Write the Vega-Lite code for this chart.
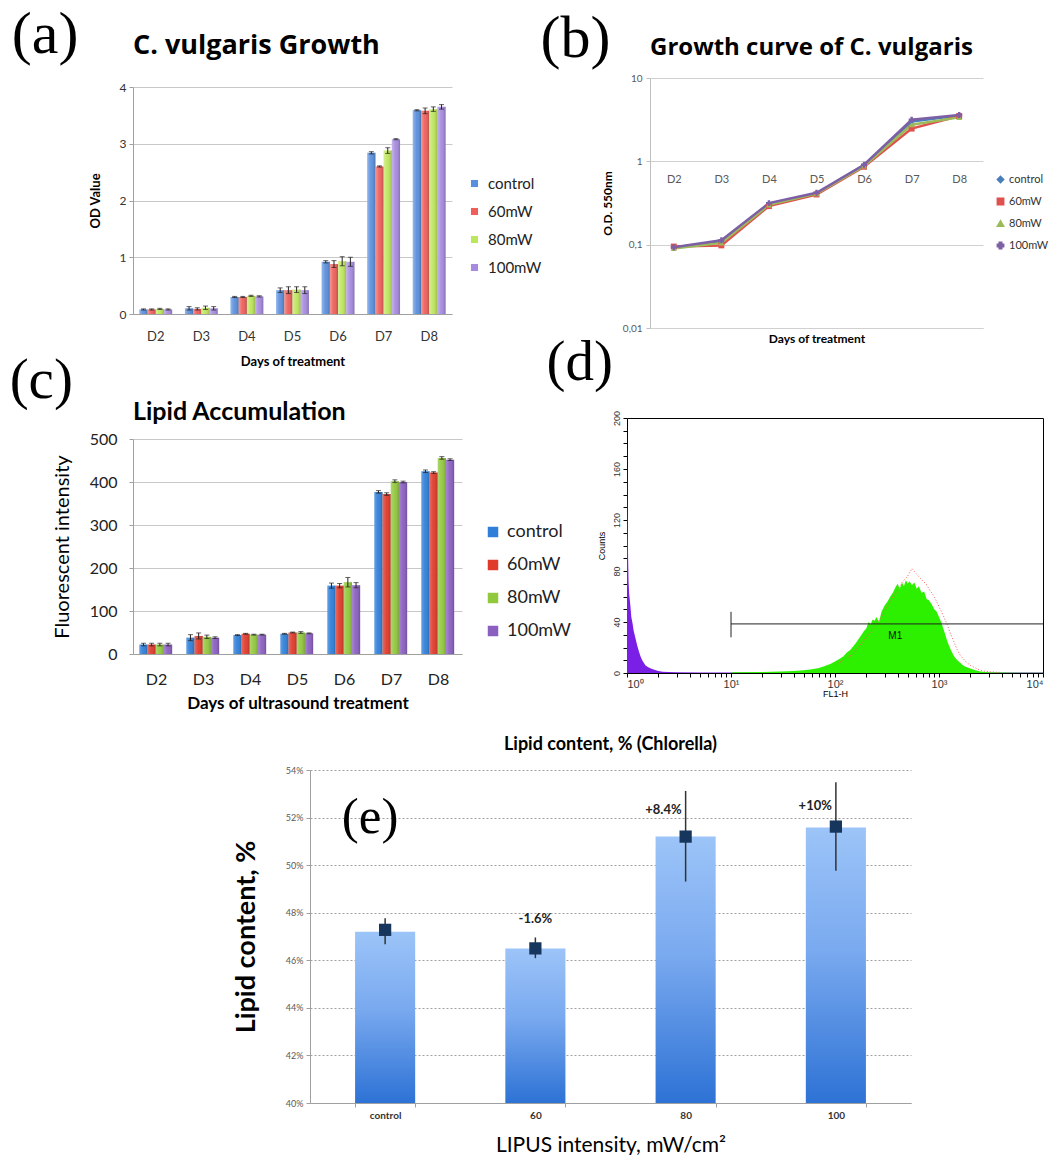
{
 "$schema": "https://vega.github.io/schema/vega-lite/v6.json",
 "background": "white",
 "padding": {"left": 9, "top": 5, "right": 0, "bottom": 0},
 "config": {
  "view": {"stroke": null},
  "font": "Lato",
  "axis": {"labelFont": "Lato", "titleFont": "Lato", "titleColor": "#000"},
  "legend": {"labelFont": "Lato"},
  "title": {"font": "Lato", "color": "#000"}
 },
 "datasets": {
  "a": [
   {"day": "D2", "grp": "control", "v": 0.08, "lo": 0.07, "hi": 0.09},
   {"day": "D2", "grp": "60mW", "v": 0.08, "lo": 0.07, "hi": 0.09},
   {"day": "D2", "grp": "80mW", "v": 0.09, "lo": 0.08, "hi": 0.10},
   {"day": "D2", "grp": "100mW", "v": 0.08, "lo": 0.07, "hi": 0.09},
   {"day": "D3", "grp": "control", "v": 0.10, "lo": 0.07, "hi": 0.13},
   {"day": "D3", "grp": "60mW", "v": 0.09, "lo": 0.07, "hi": 0.11},
   {"day": "D3", "grp": "80mW", "v": 0.11, "lo": 0.08, "hi": 0.14},
   {"day": "D3", "grp": "100mW", "v": 0.10, "lo": 0.07, "hi": 0.13},
   {"day": "D4", "grp": "control", "v": 0.30, "lo": 0.29, "hi": 0.31},
   {"day": "D4", "grp": "60mW", "v": 0.30, "lo": 0.29, "hi": 0.31},
   {"day": "D4", "grp": "80mW", "v": 0.32, "lo": 0.31, "hi": 0.33},
   {"day": "D4", "grp": "100mW", "v": 0.31, "lo": 0.30, "hi": 0.32},
   {"day": "D5", "grp": "control", "v": 0.42, "lo": 0.38, "hi": 0.46},
   {"day": "D5", "grp": "60mW", "v": 0.42, "lo": 0.36, "hi": 0.48},
   {"day": "D5", "grp": "80mW", "v": 0.43, "lo": 0.38, "hi": 0.48},
   {"day": "D5", "grp": "100mW", "v": 0.42, "lo": 0.36, "hi": 0.48},
   {"day": "D6", "grp": "control", "v": 0.92, "lo": 0.90, "hi": 0.94},
   {"day": "D6", "grp": "60mW", "v": 0.88, "lo": 0.82, "hi": 0.94},
   {"day": "D6", "grp": "80mW", "v": 0.93, "lo": 0.85, "hi": 1.01},
   {"day": "D6", "grp": "100mW", "v": 0.92, "lo": 0.84, "hi": 1.00},
   {"day": "D7", "grp": "control", "v": 2.84, "lo": 2.82, "hi": 2.86},
   {"day": "D7", "grp": "60mW", "v": 2.60, "lo": 2.59, "hi": 2.61},
   {"day": "D7", "grp": "80mW", "v": 2.88, "lo": 2.83, "hi": 2.93},
   {"day": "D7", "grp": "100mW", "v": 3.08, "lo": 3.07, "hi": 3.09},
   {"day": "D8", "grp": "control", "v": 3.59, "lo": 3.58, "hi": 3.60},
   {"day": "D8", "grp": "60mW", "v": 3.58, "lo": 3.53, "hi": 3.63},
   {"day": "D8", "grp": "80mW", "v": 3.61, "lo": 3.57, "hi": 3.65},
   {"day": "D8", "grp": "100mW", "v": 3.65, "lo": 3.61, "hi": 3.69}
  ],
  "b": [
   {"day": "D2", "grp": "control", "v": 0.092}, {"day": "D3", "grp": "control", "v": 0.11}, {"day": "D4", "grp": "control", "v": 0.31}, {"day": "D5", "grp": "control", "v": 0.41}, {"day": "D6", "grp": "control", "v": 0.90}, {"day": "D7", "grp": "control", "v": 3.0}, {"day": "D8", "grp": "control", "v": 3.55},
   {"day": "D2", "grp": "60mW", "v": 0.095}, {"day": "D3", "grp": "60mW", "v": 0.098}, {"day": "D4", "grp": "60mW", "v": 0.29}, {"day": "D5", "grp": "60mW", "v": 0.40}, {"day": "D6", "grp": "60mW", "v": 0.86}, {"day": "D7", "grp": "60mW", "v": 2.47}, {"day": "D8", "grp": "60mW", "v": 3.5},
   {"day": "D2", "grp": "80mW", "v": 0.090}, {"day": "D3", "grp": "80mW", "v": 0.105}, {"day": "D4", "grp": "80mW", "v": 0.30}, {"day": "D5", "grp": "80mW", "v": 0.41}, {"day": "D6", "grp": "80mW", "v": 0.88}, {"day": "D7", "grp": "80mW", "v": 2.75}, {"day": "D8", "grp": "80mW", "v": 3.37},
   {"day": "D2", "grp": "100mW", "v": 0.093}, {"day": "D3", "grp": "100mW", "v": 0.113}, {"day": "D4", "grp": "100mW", "v": 0.315}, {"day": "D5", "grp": "100mW", "v": 0.42}, {"day": "D6", "grp": "100mW", "v": 0.91}, {"day": "D7", "grp": "100mW", "v": 3.15}, {"day": "D8", "grp": "100mW", "v": 3.6}
  ],
  "c": [
   {"day": "D2", "grp": "control", "v": 22, "lo": 19, "hi": 25},
   {"day": "D2", "grp": "60mW", "v": 22, "lo": 19, "hi": 25},
   {"day": "D2", "grp": "80mW", "v": 22, "lo": 19, "hi": 25},
   {"day": "D2", "grp": "100mW", "v": 22, "lo": 19, "hi": 25},
   {"day": "D3", "grp": "control", "v": 38, "lo": 31, "hi": 45},
   {"day": "D3", "grp": "60mW", "v": 42, "lo": 35, "hi": 49},
   {"day": "D3", "grp": "80mW", "v": 40, "lo": 36, "hi": 44},
   {"day": "D3", "grp": "100mW", "v": 38, "lo": 36, "hi": 40},
   {"day": "D4", "grp": "control", "v": 44, "lo": 43, "hi": 45},
   {"day": "D4", "grp": "60mW", "v": 47, "lo": 46, "hi": 48},
   {"day": "D4", "grp": "80mW", "v": 45, "lo": 44, "hi": 46},
   {"day": "D4", "grp": "100mW", "v": 45, "lo": 44, "hi": 46},
   {"day": "D5", "grp": "control", "v": 47, "lo": 46, "hi": 48},
   {"day": "D5", "grp": "60mW", "v": 50, "lo": 49, "hi": 51},
   {"day": "D5", "grp": "80mW", "v": 50, "lo": 48, "hi": 52},
   {"day": "D5", "grp": "100mW", "v": 48, "lo": 47, "hi": 49},
   {"day": "D6", "grp": "control", "v": 159, "lo": 153, "hi": 165},
   {"day": "D6", "grp": "60mW", "v": 159, "lo": 154, "hi": 164},
   {"day": "D6", "grp": "80mW", "v": 167, "lo": 156, "hi": 178},
   {"day": "D6", "grp": "100mW", "v": 160, "lo": 154, "hi": 166},
   {"day": "D7", "grp": "control", "v": 377, "lo": 374, "hi": 380},
   {"day": "D7", "grp": "60mW", "v": 372, "lo": 369, "hi": 375},
   {"day": "D7", "grp": "80mW", "v": 402, "lo": 399, "hi": 405},
   {"day": "D7", "grp": "100mW", "v": 400, "lo": 398, "hi": 402},
   {"day": "D8", "grp": "control", "v": 425, "lo": 422, "hi": 428},
   {"day": "D8", "grp": "60mW", "v": 422, "lo": 420, "hi": 424},
   {"day": "D8", "grp": "80mW", "v": 456, "lo": 453, "hi": 459},
   {"day": "D8", "grp": "100mW", "v": 452, "lo": 450, "hi": 454}
  ],
  "dp": [
   {"x": 1, "c": 200}, {"x": 1.01, "c": 135}, {"x": 1.02, "c": 100}, {"x": 1.035, "c": 72}, {"x": 1.05, "c": 62}, {"x": 1.08, "c": 52}, {"x": 1.1, "c": 44}, {"x": 1.13, "c": 39}, {"x": 1.16, "c": 33}, {"x": 1.2, "c": 28}, {"x": 1.25, "c": 22}, {"x": 1.3, "c": 17}, {"x": 1.35, "c": 13}, {"x": 1.4, "c": 10}, {"x": 1.45, "c": 8}, {"x": 1.5, "c": 6}, {"x": 1.6, "c": 4.5}, {"x": 1.7, "c": 3.5}, {"x": 1.8, "c": 2.8}, {"x": 1.9, "c": 2.2}, {"x": 2, "c": 1.5}, {"x": 2.2, "c": 1}, {"x": 2.5, "c": 0.7}, {"x": 3, "c": 0.5}, {"x": 5, "c": 0.4}, {"x": 10, "c": 0.4}, {"x": 30, "c": 0.3}, {"x": 100, "c": 0.3}, {"x": 1000, "c": 0.3}, {"x": 10000, "c": 0.3}
  ],
  "dg": [
   {"x": 10, "c": 0.5}, {"x": 20, "c": 0.8}, {"x": 30, "c": 1.2}, {"x": 40, "c": 1.6}, {"x": 50, "c": 2.2}, {"x": 60, "c": 3}, {"x": 70, "c": 4}, {"x": 80, "c": 5.5}, {"x": 90, "c": 7}, {"x": 100, "c": 9}, {"x": 110, "c": 11}, {"x": 120, "c": 13}, {"x": 130, "c": 16}, {"x": 140, "c": 18}, {"x": 150, "c": 21}, {"x": 160, "c": 24}, {"x": 170, "c": 27}, {"x": 180, "c": 30}, {"x": 190, "c": 33}, {"x": 200, "c": 35}, {"x": 210, "c": 40}, {"x": 220, "c": 38}, {"x": 230, "c": 42}, {"x": 240, "c": 41}, {"x": 250, "c": 44}, {"x": 265, "c": 40}, {"x": 280, "c": 48}, {"x": 300, "c": 53}, {"x": 320, "c": 56}, {"x": 340, "c": 60}, {"x": 360, "c": 63}, {"x": 380, "c": 67}, {"x": 400, "c": 70}, {"x": 420, "c": 66}, {"x": 440, "c": 71}, {"x": 460, "c": 68}, {"x": 480, "c": 73}, {"x": 500, "c": 70}, {"x": 520, "c": 72}, {"x": 550, "c": 69}, {"x": 580, "c": 71}, {"x": 610, "c": 66}, {"x": 640, "c": 68}, {"x": 680, "c": 63}, {"x": 720, "c": 64}, {"x": 760, "c": 58}, {"x": 800, "c": 57}, {"x": 850, "c": 54}, {"x": 900, "c": 50}, {"x": 950, "c": 48}, {"x": 1000, "c": 44}, {"x": 1050, "c": 40}, {"x": 1100, "c": 35}, {"x": 1150, "c": 30}, {"x": 1200, "c": 25}, {"x": 1300, "c": 18}, {"x": 1400, "c": 13}, {"x": 1500, "c": 10}, {"x": 1600, "c": 8}, {"x": 1700, "c": 6}, {"x": 1800, "c": 5}, {"x": 2000, "c": 3.5}, {"x": 2200, "c": 2.3}, {"x": 2500, "c": 1.2}, {"x": 3000, "c": 0.6}, {"x": 4000, "c": 0.3}, {"x": 6000, "c": 0.2}, {"x": 10000, "c": 0.1}
  ],
  "dr": [
   {"x": 100, "c": 6}, {"x": 150, "c": 15}, {"x": 200, "c": 28}, {"x": 250, "c": 38}, {"x": 300, "c": 48}, {"x": 350, "c": 58}, {"x": 400, "c": 65}, {"x": 450, "c": 72}, {"x": 500, "c": 76}, {"x": 550, "c": 82}, {"x": 600, "c": 78}, {"x": 650, "c": 75}, {"x": 700, "c": 72}, {"x": 750, "c": 70}, {"x": 800, "c": 66}, {"x": 900, "c": 60}, {"x": 1000, "c": 52}, {"x": 1100, "c": 45}, {"x": 1200, "c": 38}, {"x": 1300, "c": 30}, {"x": 1400, "c": 24}, {"x": 1500, "c": 18}, {"x": 1600, "c": 14}, {"x": 1800, "c": 9}, {"x": 2000, "c": 6}, {"x": 2500, "c": 2}, {"x": 3000, "c": 1}, {"x": 4000, "c": 0.4}
  ],
  "dm": [
   {"x": 10, "x2": 10000, "y": 38.5, "y2": 38.5},
   {"x": 10, "x2": 10, "y": 28, "y2": 48}
  ],
  "e": [
   {"cat": "control", "v": 47.2, "m": 47.28, "lo": 46.67, "hi": 47.77, "lab": "", "ly": 47.2},
   {"cat": "60", "v": 46.5, "m": 46.5, "lo": 46.09, "hi": 46.96, "lab": "-1.6%", "ly": 47.72},
   {"cat": "80", "v": 51.2, "m": 51.2, "lo": 49.31, "hi": 53.12, "lab": "+8.4%", "ly": 52.3},
   {"cat": "100", "v": 51.58, "m": 51.62, "lo": 49.76, "hi": 53.48, "lab": "+10%", "ly": 52.5}
  ]
 },
 "resolve": {"scale": {"color": "independent", "shape": "independent"}, "legend": {"color": "independent", "shape": "independent"}},
 "spacing": 25,
 "vconcat": [
  {
   "spacing": -35,
   "resolve": {"scale": {"color": "independent", "shape": "independent"}, "legend": {"color": "independent", "shape": "independent"}},
   "vconcat": [
    {
     "spacing": -2,
     "resolve": {"scale": {"color": "independent", "shape": "independent"}, "legend": {"color": "independent", "shape": "independent"}},
     "hconcat": [
      {
       "title": {"text": "(a)", "orient": "left", "anchor": "end", "align": "right", "baseline": "top", "angle": 0, "font": "Liberation Serif", "fontSize": 60, "fontWeight": "normal", "color": "#000", "offset": -56, "dy": -26},
       "spacing": -47,
       "vconcat": [
        {"width": 1, "height": 1, "data": {"values": []}, "mark": "point"},
        {
         "width": 319, "height": 227,
         "title": {"text": "C. vulgaris Growth", "anchor": "start", "frame": "group", "font": "Open Sans", "fontSize": 27, "fontWeight": "bold", "offset": 21},
         "data": {"name": "a"},
         "encoding": {
          "x": {"field": "day", "type": "nominal", "title": "Days of treatment", "scale": {"paddingInner": 0.28, "paddingOuter": 0.14},
                "axis": {"labelAngle": 0, "ticks": false, "labelFontSize": 13, "labelColor": "#333", "labelPadding": 16, "domainColor": "#A0A0A0", "titleFontSize": 13, "titleFontWeight": "bold", "titlePadding": 12}},
          "xOffset": {"field": "grp", "type": "nominal", "sort": ["control", "60mW", "80mW", "100mW"]}
         },
         "layer": [
          {"mark": {"type": "bar"},
           "encoding": {
            "y": {"field": "v", "type": "quantitative", "title": "OD Value", "scale": {"domain": [0, 4], "nice": false},
                  "axis": {"values": [0, 0.5, 1, 1.5, 2, 2.5, 3, 3.5, 4], "labelExpr": "replace(format(datum.value,''),'.',',')", "labelFontSize": 12, "labelColor": "#333", "gridColor": "#C8C8C8", "domainColor": "#A0A0A0", "tickColor": "#A0A0A0", "tickSize": 4, "labelPadding": 3, "titleFontSize": 13, "titleFontWeight": "bold", "titlePadding": 17}},
            "color": {"field": "grp", "type": "nominal", "sort": ["control", "60mW", "80mW", "100mW"],
                      "scale": {"domain": ["control", "60mW", "80mW", "100mW"], "range": ["#5A8FDD", "#EE5F5B", "#BEE65C", "#A68ADF"]},
                      "legend": {"orient": "none", "legendX": 334, "legendY": 98, "title": null, "labelFontSize": 15, "labelColor": "#222", "symbolType": "square", "symbolSize": 50, "rowPadding": 12, "labelOffset": 6}}
           }},
          {"mark": {"type": "bar", "color": {"gradient": "linear", "x1": 0, "y1": 0, "x2": 1, "y2": 0, "stops": [{"offset": 0, "color": "rgba(255,255,255,0.35)"}, {"offset": 0.45, "color": "rgba(255,255,255,0.05)"}, {"offset": 1, "color": "rgba(0,0,0,0.2)"}]}},
           "encoding": {"y": {"field": "v", "type": "quantitative"}}},
          {"mark": {"type": "rule", "color": "#222", "strokeWidth": 1}, "encoding": {"y": {"field": "lo", "type": "quantitative"}, "y2": {"field": "hi"}}},
          {"mark": {"type": "tick", "color": "#222", "thickness": 1, "size": 5}, "encoding": {"y": {"field": "lo", "type": "quantitative"}}},
          {"mark": {"type": "tick", "color": "#222", "thickness": 1, "size": 5}, "encoding": {"y": {"field": "hi", "type": "quantitative"}}}
         ]
        }
       ]
      },
      {
       "title": {"text": "(b)", "orient": "left", "anchor": "end", "align": "right", "baseline": "top", "angle": 0, "font": "Liberation Serif", "fontSize": 60, "fontWeight": "normal", "color": "#000", "offset": -79, "dy": -26},
       "vconcat": [
        {
         "width": 333, "height": 250,
         "title": {"text": "Growth curve of C. vulgaris", "anchor": "start", "frame": "group", "font": "Open Sans", "fontSize": 24, "fontWeight": "bold", "offset": 13},
         "data": {"name": "b"},
         "mark": {"type": "line", "strokeWidth": 2.5, "point": {"filled": true, "size": 35}},
         "encoding": {
          "x": {"field": "day", "type": "ordinal", "title": "Days of treatment", "scale": {"type": "point", "padding": 0.5},
                "axis": {"labelAngle": 0, "ticks": false, "tickSize": 0, "labelPadding": -155, "labelFontSize": 11, "labelColor": "#595959", "domainColor": "#D0D0D0", "grid": false, "titleFontSize": 12, "titleFontWeight": "bold", "titlePadding": 5}},
          "y": {"field": "v", "type": "quantitative", "title": "O.D. 550nm", "scale": {"type": "log", "domain": [0.01, 10]},
                "axis": {"values": [0.01, 0.1, 1, 10], "labelExpr": "replace(format(datum.value,''),'.',',')", "labelFontSize": 10, "labelColor": "#595959", "gridColor": "#D0D0D0", "domainColor": "#C0C0C0", "tickColor": "#C0C0C0", "tickSize": 4, "labelPadding": 4, "titleFontSize": 12, "titleFontWeight": "bold", "titlePadding": 8}},
          "color": {"field": "grp", "type": "nominal", "sort": ["control", "60mW", "80mW", "100mW"],
                    "scale": {"domain": ["control", "60mW", "80mW", "100mW"], "range": ["#4A7EBB", "#E0504C", "#9BBB59", "#7D5FA6"]},
                    "legend": {"orient": "none", "legendX": 345, "legendY": 96, "title": null, "labelFontSize": 11, "labelColor": "#333", "symbolSize": 40, "symbolStrokeWidth": 1.5, "rowPadding": 9, "labelOffset": 3}},
          "shape": {"field": "grp", "type": "nominal", "scale": {"domain": ["control", "60mW", "80mW", "100mW"], "range": ["diamond", "square", "triangle-up", "cross"]}, "legend": null}
         }
        }
       ]
      }
     ]
    },
    {
     "spacing": -25,
     "resolve": {"scale": {"color": "independent", "shape": "independent"}, "legend": {"color": "independent", "shape": "independent"}},
     "hconcat": [
      {
       "title": {"text": "(c)", "orient": "left", "anchor": "end", "align": "right", "baseline": "top", "angle": 0, "font": "Liberation Serif", "fontSize": 57, "fontWeight": "normal", "color": "#000", "offset": -84, "dy": -47},
       "spacing": -19,
       "vconcat": [
        {"width": 1, "height": 1, "data": {"values": []}, "mark": "point"},
        {
         "width": 329, "height": 215,
         "title": {"text": "Lipid Accumulation", "anchor": "start", "frame": "group", "fontSize": 25, "fontWeight": "bold", "offset": 6},
         "data": {"name": "c"},
         "encoding": {
          "x": {"field": "day", "type": "nominal", "title": "Days of ultrasound treatment", "scale": {"paddingInner": 0.27, "paddingOuter": 0.135},
                "axis": {"labelAngle": 0, "ticks": false, "labelFontSize": 16, "labelColor": "#222", "labelPadding": 17, "domainColor": "#A0A0A0", "titleFontSize": 17, "titleFontWeight": "bold", "titlePadding": 8}},
          "xOffset": {"field": "grp", "type": "nominal", "sort": ["control", "60mW", "80mW", "100mW"]}
         },
         "layer": [
          {"mark": {"type": "bar"},
           "encoding": {
            "y": {"field": "v", "type": "quantitative", "title": "Fluorescent intensity", "scale": {"domain": [0, 500], "nice": false},
                  "axis": {"values": [0, 100, 200, 300, 400, 500], "labelFontSize": 16, "labelColor": "#222", "gridColor": "#C8C8C8", "domainColor": "#A0A0A0", "tickColor": "#A0A0A0", "tickSize": 4, "labelPadding": 12, "titleFontSize": 20, "titleFontWeight": "normal", "titlePadding": 17}},
            "color": {"field": "grp", "type": "nominal", "sort": ["control", "60mW", "80mW", "100mW"],
                      "scale": {"domain": ["control", "60mW", "80mW", "100mW"], "range": ["#2F7FD9", "#E03A2B", "#92C83E", "#8A5FC0"]},
                      "legend": {"orient": "none", "legendX": 351, "legendY": 105, "title": null, "labelFontSize": 18, "labelColor": "#222", "symbolType": "square", "symbolSize": 110, "rowPadding": 15, "labelOffset": 5}}
           }},
          {"mark": {"type": "bar", "color": {"gradient": "linear", "x1": 0, "y1": 0, "x2": 1, "y2": 0, "stops": [{"offset": 0, "color": "rgba(255,255,255,0.25)"}, {"offset": 0.45, "color": "rgba(255,255,255,0.05)"}, {"offset": 1, "color": "rgba(0,0,0,0.18)"}]}},
           "encoding": {"y": {"field": "v", "type": "quantitative"}}},
          {"mark": {"type": "rule", "color": "#222", "strokeWidth": 1}, "encoding": {"y": {"field": "lo", "type": "quantitative"}, "y2": {"field": "hi"}}},
          {"mark": {"type": "tick", "color": "#222", "thickness": 1, "size": 5}, "encoding": {"y": {"field": "lo", "type": "quantitative"}}},
          {"mark": {"type": "tick", "color": "#222", "thickness": 1, "size": 5}, "encoding": {"y": {"field": "hi", "type": "quantitative"}}}
         ]
        }
       ]
      },
      {
       "title": {"text": "(d)", "orient": "left", "anchor": "end", "align": "right", "baseline": "top", "angle": 0, "font": "Liberation Serif", "fontSize": 57, "fontWeight": "normal", "color": "#000", "offset": -83, "dy": -75},
       "vconcat": [
        {
         "width": 416, "height": 255,
         "view": {"stroke": "#000", "strokeWidth": 1},
         "encoding": {
          "x": {"field": "x", "type": "quantitative", "title": "FL1-H", "scale": {"type": "log", "domain": [1, 10000]},
                "axis": {"values": [1, 2, 3, 4, 5, 6, 7, 8, 9, 10, 20, 30, 40, 50, 60, 70, 80, 90, 100, 200, 300, 400, 500, 600, 700, 800, 900, 1000, 2000, 3000, 4000, 5000, 6000, 7000, 8000, 9000, 10000],
                         "labelExpr": "datum.value == 1 ? '10⁰' : datum.value == 10 ? '10¹' : datum.value == 100 ? '10²' : datum.value == 1000 ? '10³' : datum.value == 10000 ? '10⁴' : ''",
                         "grid": false, "domain": false, "tickSize": 4, "tickColor": "#000", "labelFont": "Liberation Sans", "labelFontSize": 11, "labelColor": "#333", "labelPadding": 1, "labelOverlap": false, "titleFont": "Liberation Sans", "titleFontSize": 9, "titleFontWeight": "normal", "titlePadding": 0}},
          "y": {"field": "c", "type": "quantitative", "title": "Counts", "scale": {"domain": [0, 200], "nice": false},
                "axis": {"values": [0, 10, 20, 30, 40, 50, 60, 70, 80, 90, 100, 110, 120, 130, 140, 150, 160, 170, 180, 190, 200],
                         "labelExpr": "datum.value % 40 == 0 ? format(datum.value, 'd') : ''",
                         "labelAngle": -90, "labelAlign": "center", "labelBaseline": "bottom", "grid": false, "domain": false, "tickSize": 4, "tickColor": "#000", "labelFont": "Liberation Sans", "labelFontSize": 9, "labelColor": "#333", "labelPadding": 2, "labelOverlap": false, "titleFont": "Liberation Sans", "titleFontSize": 9, "titleFontWeight": "normal", "titlePadding": 6}}
         },
         "layer": [
          {"data": {"name": "dp"}, "mark": {"type": "area", "color": "#7A1FE6"}},
          {"data": {"name": "dg"}, "mark": {"type": "area", "color": "#2CF000"}},
          {"data": {"name": "dr"}, "mark": {"type": "line", "color": "#FF5A5A", "strokeDash": [1, 2], "strokeWidth": 1}},
          {"data": {"name": "dm"}, "mark": {"type": "rule", "color": "#222", "strokeWidth": 1},
           "encoding": {"x2": {"field": "x2"}, "y": {"field": "y", "type": "quantitative"}, "y2": {"field": "y2"}}},
          {"data": {"values": [{"t": "M1", "x": 380, "c": 29}]}, "mark": {"type": "text", "font": "Liberation Sans", "fontSize": 10, "color": "#111", "baseline": "middle"},
           "encoding": {"text": {"field": "t"}}}
         ]
        }
       ]
      }
     ]
    }
   ]
  },
  {
   "spacing": 98,
   "hconcat": [
    {"width": 1, "height": 1, "data": {"values": []}, "mark": "point"},
    {
     "width": 601, "height": 333,
     "title": {"text": "Lipid content, % (Chlorella)", "anchor": "middle", "frame": "group", "fontSize": 18, "fontWeight": "bold", "offset": 12},
     "data": {"name": "e"},
     "encoding": {
      "x": {"field": "cat", "type": "nominal", "sort": ["control", "60", "80", "100"], "title": "LIPUS intensity, mW/cm²", "scale": {"paddingInner": 0.6, "paddingOuter": 0.3},
            "axis": {"labelAngle": 0, "tickBand": "extent", "tickSize": 4, "tickColor": "#A0A0A0", "domainColor": "#A0A0A0", "labelFontSize": 10, "labelFontWeight": "bold", "labelColor": "#333", "labelPadding": 3, "titleFontSize": 21, "titleFontWeight": "normal", "titleColor": "#000", "titlePadding": 14}}
     },
     "layer": [
      {"mark": {"type": "bar", "color": {"gradient": "linear", "x1": 0, "y1": 0, "x2": 0, "y2": 1, "stops": [{"offset": 0, "color": "#9CC4F8"}, {"offset": 0.45, "color": "#79A9EF"}, {"offset": 1, "color": "#2D72D5"}]}},
       "encoding": {
        "y": {"field": "v", "type": "quantitative", "title": "Lipid content, %", "scale": {"domain": [40, 54], "nice": false, "zero": false},
              "axis": {"values": [40, 42, 44, 46, 48, 50, 52, 54], "labelExpr": "datum.value + '%'", "labelFontSize": 9, "labelColor": "#595959", "gridColor": "#A0A0A0", "gridDash": [2, 2], "domainColor": "#A0A0A0", "tickColor": "#A0A0A0", "tickSize": 4, "labelPadding": 3, "titleFontSize": 27, "titleFontWeight": "bold", "titlePadding": 25}},
        "y2": {"datum": 40}
       }},
      {"mark": {"type": "rule", "color": "#333", "strokeWidth": 1.5}, "encoding": {"y": {"field": "lo", "type": "quantitative"}, "y2": {"field": "hi"}}},
      {"mark": {"type": "point", "shape": "square", "filled": true, "color": "#17365D", "size": 150, "opacity": 1}, "encoding": {"y": {"field": "m", "type": "quantitative"}}},
      {"transform": [{"filter": "datum.cat == '60'"}], "mark": {"type": "text", "font": "Lato", "fontWeight": "bold", "fontSize": 13, "color": "#222", "align": "center", "baseline": "middle"},
       "encoding": {"y": {"field": "ly", "type": "quantitative"}, "text": {"field": "lab"}}},
      {"transform": [{"filter": "datum.cat == '80' || datum.cat == '100'"}], "mark": {"type": "text", "font": "Lato", "fontWeight": "bold", "fontSize": 13, "color": "#222", "align": "right", "baseline": "middle", "dx": -4},
       "encoding": {"y": {"field": "ly", "type": "quantitative"}, "text": {"field": "lab"}}},
      {"data": {"values": [{"cat": "control", "ly": 52, "t": "(e)"}]}, "mark": {"type": "text", "font": "Liberation Serif", "fontSize": 51, "color": "#000", "align": "center", "baseline": "middle", "dx": -15},
       "encoding": {"y": {"field": "ly", "type": "quantitative"}, "text": {"field": "t"}}}
     ]
    }
   ]
  }
 ]
}
